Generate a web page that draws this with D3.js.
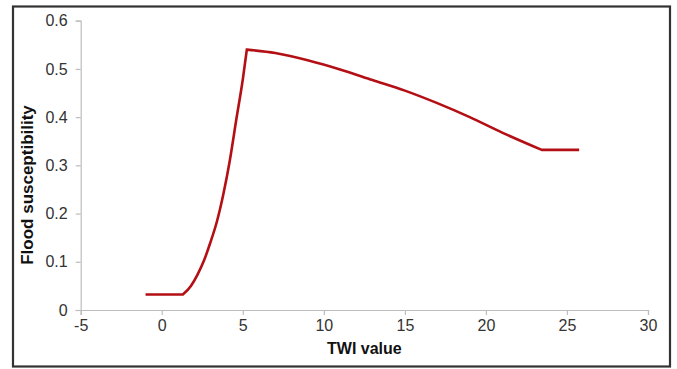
<!DOCTYPE html>
<html>
<head>
<meta charset="utf-8">
<script src="https://cdn.jsdelivr.net/npm/d3@7"></script>
<style>
  html, body { margin: 0; padding: 0; background: #fff; }
  svg { display: block; font-family: Arial, "Liberation Sans", sans-serif; }
</style>
</head>
<body>
<svg id="chart" width="677" height="369"></svg>
<script>
// Data
const twi = [-1.0, 1.3, 1.8, 2.2, 2.6, 3.0, 3.4, 3.8, 4.2, 4.6, 5.0, 5.25, 7, 9, 11, 13, 15, 17, 19, 21, 23.45, 25.75];
const susceptibility = [0.032, 0.032, 0.05, 0.073, 0.102, 0.14, 0.183, 0.24, 0.31, 0.395, 0.478, 0.54, 0.533, 0.518, 0.499, 0.477, 0.455, 0.429, 0.400, 0.368, 0.332, 0.332];
const breakpoints = [-1.0, 1.3, 5.25, 23.45, 25.75];
const xTicks = [-5, 0, 5, 10, 15, 20, 25, 30];
const yTicks = [0, 0.1, 0.2, 0.3, 0.4, 0.5, 0.6];
const xTitle = "TWI value";
const yTitle = "Flood susceptibility";

(function () {
  const svg = d3.select("#chart");
  const mLeft = 80.7, mRight = 648, mTop = 20.7, mBottom = 310;

  // outer frame
  svg.append("rect")
    .attr("x", 13).attr("y", 6.5)
    .attr("width", 657).attr("height", 360)
    .attr("fill", "none").attr("stroke", "#333").attr("stroke-width", 2.2);

  const x = d3.scaleLinear().domain([-5, 30]).range([mLeft, mRight]);
  const y = d3.scaleLinear().domain([0, 0.6]).range([mBottom, mTop]);

  const axisColor = "#bdbdbd";
  const textColor = "#333";

  const xAxis = svg.append("g")
    .attr("transform", `translate(0,${mBottom})`)
    .call(d3.axisBottom(x).tickValues(xTicks).tickFormat(d => String(d)).tickSizeOuter(0).tickSize(5).tickPadding(5));
  const yAxis = svg.append("g")
    .attr("transform", `translate(${mLeft},0)`)
    .call(d3.axisLeft(y).tickValues(yTicks).tickFormat(d => d === 0 ? "0" : d.toFixed(1)).tickSizeOuter(0).tickSize(5).tickPadding(8));

  [xAxis, yAxis].forEach(g => {
    g.attr("font-size", null).attr("font-family", null);
    g.select(".domain").attr("stroke", axisColor).attr("stroke-width", 1.2);
    g.selectAll(".tick line").attr("stroke", axisColor).attr("stroke-width", 1.2);
    g.selectAll(".tick text").attr("fill", textColor)
      .style("font-size", "16px")
      .style("font-family", "Arial, 'Liberation Sans', sans-serif");
  });

  // titles
  svg.append("text")
    .attr("x", (mLeft + mRight) / 2).attr("y", 354)
    .attr("text-anchor", "middle")
    .style("font-size", "16px").attr("font-weight", "bold").attr("fill", "#111")
    .text(xTitle);
  svg.append("text")
    .attr("transform", `translate(33,185) rotate(-90)`)
    .attr("text-anchor", "middle")
    .style("font-size", "17px").attr("font-weight", "bold").attr("fill", "#111")
    .text(yTitle);

  // line, drawn piecewise so the sharp corners stay sharp
  const pts = twi.map((v, i) => [v, susceptibility[i]]);
  const line = d3.line().x(d => x(d[0])).y(d => y(d[1])).curve(d3.curveMonotoneX);
  let dStr = "";
  for (let k = 0; k < breakpoints.length - 1; k++) {
    const seg = pts.filter(p => p[0] >= breakpoints[k] && p[0] <= breakpoints[k + 1]);
    let s = line(seg);
    if (k > 0) s = "L" + s.slice(1);
    dStr += s;
  }
  svg.append("path")
    .attr("fill", "none")
    .attr("stroke", "#b30f14")
    .attr("stroke-width", 2.6)
    .attr("stroke-linejoin", "miter")
    .attr("d", dStr);
})();
</script>
</body>
</html>
